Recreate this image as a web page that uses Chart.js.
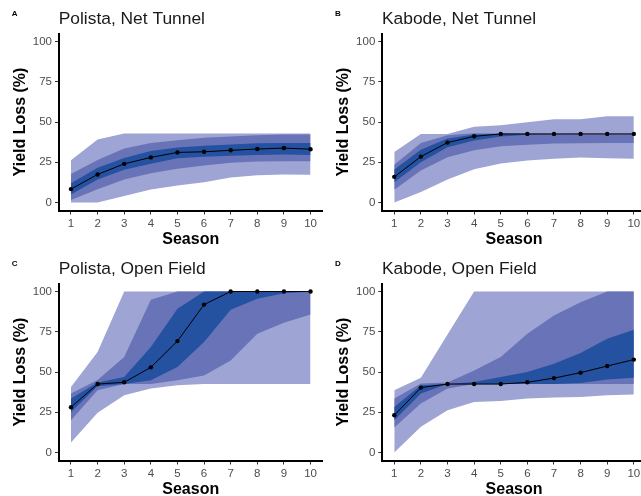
<!DOCTYPE html>
<html lang="en">
<head>
<meta charset="UTF-8">
<title>Yield Loss by Season</title>
<script src="https://cdn.jsdelivr.net/npm/chart.js"></script>
<style>
  html, body { margin: 0; padding: 0; background: #fff; overflow: hidden; }
  #wrap { position: relative; width: 641px; height: 496px; overflow: hidden; }
  canvas { position: absolute; }
</style>
</head>
<body>
<div id="wrap">
  <canvas id="chartA" width="330" height="250" style="left:0;top:0"></canvas>
  <canvas id="chartB" width="330" height="250" style="left:320px;top:0"></canvas>
  <canvas id="chartC" width="330" height="250" style="left:0;top:250px"></canvas>
  <canvas id="chartD" width="330" height="250" style="left:320px;top:250px"></canvas>
</div>
<script>
const seasons = [1, 2, 3, 4, 5, 6, 7, 8, 9, 10];
const yTicks = [0, 25, 50, 75, 100];

// A: Polista, Net Tunnel
const polTunnelMedian  = [8.3, 17.4, 24, 28, 31.1, 31.5, 32.4, 33.2, 33.8, 33.1];
const polTunnelOuterHi = [26.3, 39.2, 42.8, 42.8, 42.8, 42.8, 42.8, 42.8, 42.8, 42.8];
const polTunnelOuterLo = [0, 0, 4, 8, 10.6, 12.5, 15.5, 16.9, 17.3, 17.2];
const polTunnelMidHi   = [17.7, 26.4, 33.5, 36.9, 38.7, 40.2, 41, 41.7, 42.3, 42.3];
const polTunnelMidLo   = [1.5, 8.2, 14.2, 18.2, 21, 23, 24.6, 25.4, 25.6, 25.6];
const polTunnelInnerHi = [12, 21.6, 27.7, 32, 34.2, 35.2, 36, 36.8, 37, 37];
const polTunnelInnerLo = [5, 14.2, 20.3, 24, 27.5, 28.4, 29.1, 29.5, 29.8, 29.5];

// B: Kabode, Net Tunnel
const kabTunnelMedian  = [15.9, 28.5, 37.2, 41.1, 42.6, 42.6, 42.6, 42.6, 42.6, 42.6];
const kabTunnelOuterHi = [31.3, 42.6, 42.6, 47.1, 48, 49.8, 51.7, 51.7, 53.6, 53.6];
const kabTunnelOuterLo = [0, 6.5, 14.2, 20.6, 24.2, 26.1, 27.2, 27.9, 27.5, 27.2];
const kabTunnelMidHi   = [23.5, 36.9, 41.8, 43, 42.8, 42.6, 42.6, 42.6, 42.6, 42.6];
const kabTunnelMidLo   = [7.9, 19.8, 28.1, 32.5, 34.9, 35.9, 36.7, 36.8, 37, 37];
const kabTunnelInnerHi = [20.5, 32.8, 39.8, 42.2, 42.6, 42.6, 42.6, 42.6, 42.6, 42.6];
const kabTunnelInnerLo = [12.5, 25, 34.3, 38.5, 41, 42, 42.4, 42.6, 42.6, 42.6];

// C: Polista, Open Field
const polFieldMedian  = [28.1, 42.5, 43.6, 52.9, 69.2, 91.9, 100, 100, 100, 100];
const polFieldOuterHi = [40.7, 62.4, 100, 100, 100, 100, 100, 100, 100, 100];
const polFieldOuterLo = [6.2, 24.6, 35.5, 39.7, 41.7, 42.5, 42.5, 42.5, 42.5, 42.5];
const polFieldMidHi   = [36.6, 45, 59.3, 94.9, 100, 100, 100, 100, 100, 100];
const polFieldMidLo   = [20, 38.6, 42.5, 42.5, 44.8, 47.9, 57.2, 73.8, 80.6, 85.7];
const polFieldInnerHi = [33.5, 43.5, 46.9, 65.5, 89.3, 100, 100, 100, 100, 100];
const polFieldInnerLo = [25.2, 41.1, 42.5, 44.8, 53.1, 68.6, 88.7, 95.5, 99, 100];

// D: Kabode, Open Field
const kabFieldMedian  = [23.1, 40.3, 42.5, 42.5, 42.5, 43.6, 46.2, 49.6, 53.7, 57.7];
const kabFieldOuterHi = [38.6, 46.5, 73.3, 100, 100, 100, 100, 100, 100, 100];
const kabFieldOuterLo = [0, 15.9, 26.2, 31.4, 32, 33.5, 34.1, 34.5, 35.5, 36];
const kabFieldMidHi   = [33.5, 42.8, 43.5, 51, 59.3, 73.8, 85.1, 93.4, 100, 100];
const kabFieldMidLo   = [15.5, 30.4, 39.7, 42.5, 42.5, 42.5, 42.5, 42.5, 42.5, 42.5];
const kabFieldInnerHi = [28.3, 41.7, 42.5, 43.8, 46.9, 50, 55.2, 61.8, 70.7, 76.3];
const kabFieldInnerLo = [20, 36.6, 42.5, 42.5, 42.5, 42.5, 42.5, 43.2, 45.4, 46.5];

const FONT = '"Liberation Sans", Arial, Helvetica, sans-serif';
const colOuter = '#9ea4d3';
const colMid = '#6874b7';
const colInner = '#2551a1';

// tag letter + panel title, drawn from the chart area left edge
const panelText = {
    id: 'panelText',
    afterDraw(chart, args, opts) {
        const ctx = chart.ctx;
        ctx.save();
        ctx.textBaseline = 'alphabetic';
        ctx.textAlign = 'left';
        ctx.fillStyle = '#000';
        ctx.font = 'bold 8px ' + FONT;
        ctx.fillText(opts.tag, opts.tagX, 15.7);
        ctx.fillStyle = '#1a1a1a';
        ctx.font = '17.4px ' + FONT;
        ctx.fillText(opts.title, chart.chartArea.left - 0.3, 24);
        ctx.restore();
    }
};

function band(lo, hi, color, order) {
    const base = { pointRadius: 0, borderWidth: 0, borderColor: 'transparent', tension: 0, order: order };
    return [
        Object.assign({ data: lo, fill: false }, base),
        Object.assign({ data: hi, fill: '-1', backgroundColor: color }, base)
    ];
}

function makePanel(id, tag, title, left, s) {
    const datasets = [].concat(
        band(s.outerLo, s.outerHi, colOuter, 3),
        band(s.midLo, s.midHi, colMid, 2),
        band(s.innerLo, s.innerHi, colInner, 1),
        [{
            data: s.median,
            borderColor: '#000',
            borderWidth: 1,
            backgroundColor: '#000',
            pointRadius: 2.2,
            pointBorderWidth: 0,
            tension: 0,
            fill: false,
            order: 0
        }]
    );

    new Chart(document.getElementById(id), {
        type: 'line',
        data: { labels: seasons, datasets: datasets },
        plugins: [panelText],
        options: {
            responsive: false,
            animation: false,
            layout: { padding: { top: 33.5, right: 330 - (left + 263.5), bottom: 0, left: 0 } },
            plugins: {
                legend: { display: false },
                tooltip: { enabled: false },
                panelText: { tag: tag, tagX: left - 47.3, title: title }
            },
            scales: {
                x: {
                    type: 'linear',
                    min: 0.55,
                    max: 10.45,
                    afterBuildTicks: axis => { axis.ticks = seasons.map(v => ({ value: v })); },
                    afterFit: axis => { axis.height = 39.5; },
                    grid: { drawOnChartArea: false, tickLength: 4, tickColor: '#333', tickWidth: 1 },
                    border: { display: true, color: '#000', width: 2 },
                    ticks: { color: '#4d4d4d', font: { family: FONT, size: 11.5 }, padding: 2 },
                    title: {
                        display: true, text: 'Season', color: '#000',
                        font: { family: FONT, size: 16, weight: 'bold' },
                        padding: { top: 0, bottom: 1 }
                    }
                },
                y: {
                    type: 'linear',
                    min: -5,
                    max: 105,
                    afterBuildTicks: axis => { axis.ticks = yTicks.map(v => ({ value: v })); },
                    afterFit: axis => { axis.width = left; },
                    grid: { drawOnChartArea: false, tickLength: 4, tickColor: '#333', tickWidth: 1 },
                    border: { display: true, color: '#000', width: 2 },
                    ticks: { color: '#4d4d4d', font: { family: FONT, size: 11.5 }, padding: 3 },
                    title: {
                        display: true, text: 'Yield Loss (%)', color: '#000',
                        font: { family: FONT, size: 16, weight: 'bold' },
                        padding: { top: left - 48.5, bottom: 0 }
                    }
                }
            }
        }
    });
}

makePanel('chartA', 'A', 'Polista, Net Tunnel', 59, {
    median: polTunnelMedian, outerHi: polTunnelOuterHi, outerLo: polTunnelOuterLo,
    midHi: polTunnelMidHi, midLo: polTunnelMidLo, innerHi: polTunnelInnerHi, innerLo: polTunnelInnerLo
});
makePanel('chartB', 'B', 'Kabode, Net Tunnel', 62.3, {
    median: kabTunnelMedian, outerHi: kabTunnelOuterHi, outerLo: kabTunnelOuterLo,
    midHi: kabTunnelMidHi, midLo: kabTunnelMidLo, innerHi: kabTunnelInnerHi, innerLo: kabTunnelInnerLo
});
makePanel('chartC', 'C', 'Polista, Open Field', 59, {
    median: polFieldMedian, outerHi: polFieldOuterHi, outerLo: polFieldOuterLo,
    midHi: polFieldMidHi, midLo: polFieldMidLo, innerHi: polFieldInnerHi, innerLo: polFieldInnerLo
});
makePanel('chartD', 'D', 'Kabode, Open Field', 62.3, {
    median: kabFieldMedian, outerHi: kabFieldOuterHi, outerLo: kabFieldOuterLo,
    midHi: kabFieldMidHi, midLo: kabFieldMidLo, innerHi: kabFieldInnerHi, innerLo: kabFieldInnerLo
});
</script>
</body>
</html>
